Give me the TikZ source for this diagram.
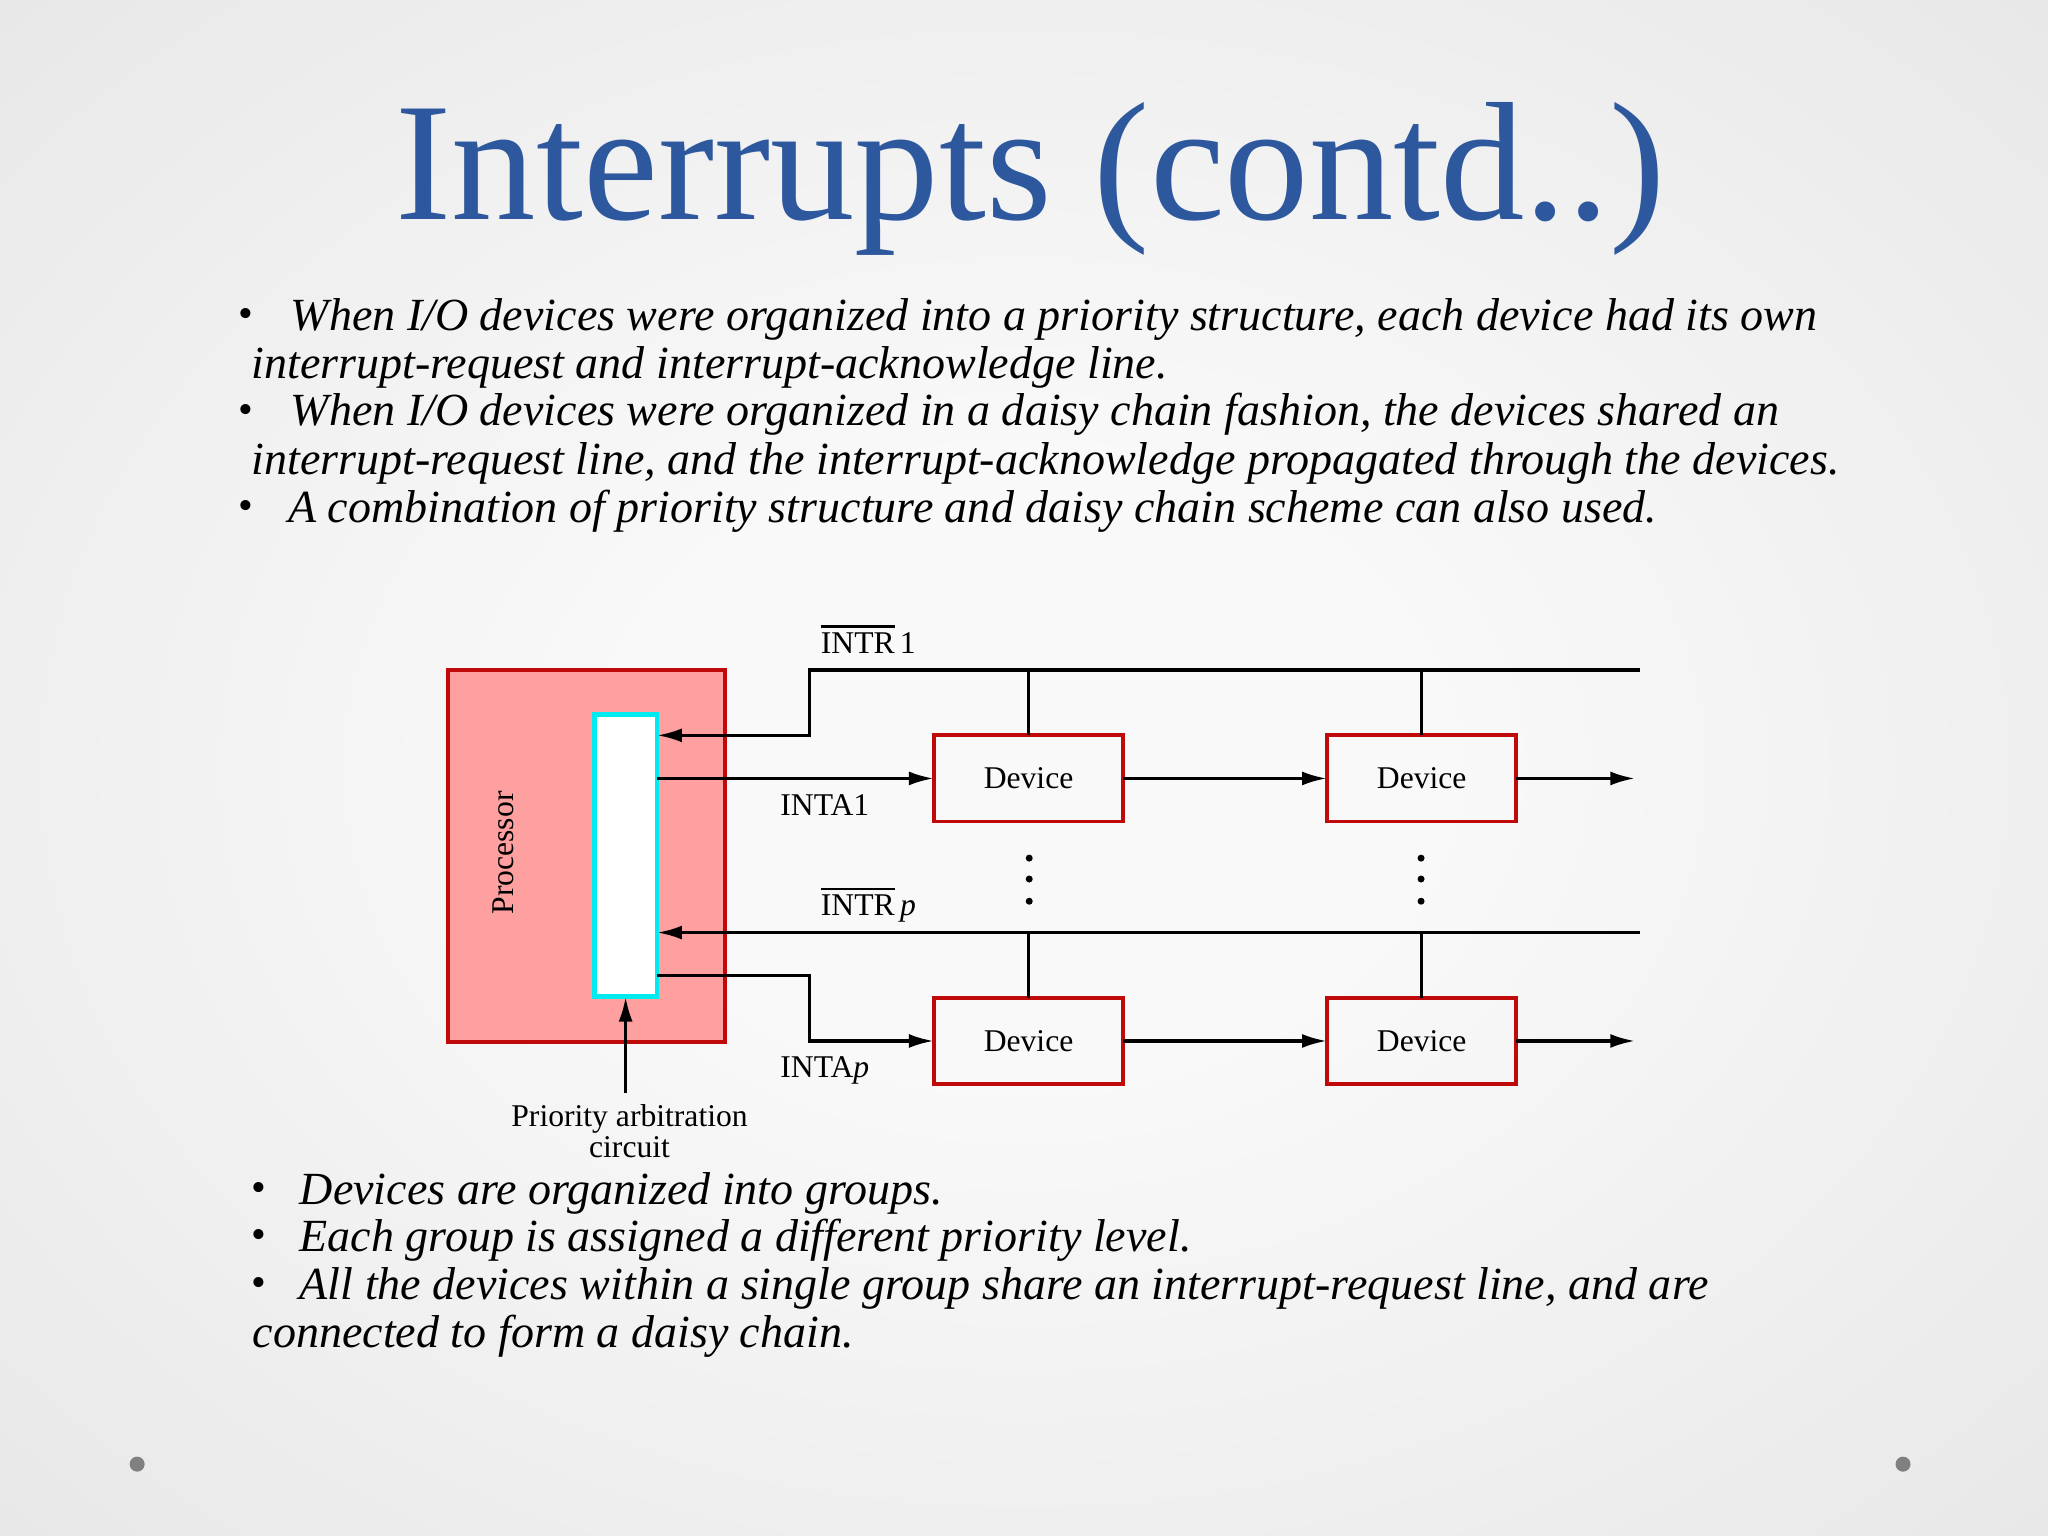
\documentclass[tikz,border=0pt]{standalone}
\usepackage{fontspec}
\setmainfont{Liberation Serif}
\usetikzlibrary{arrows.meta,calc}
\definecolor{titleblue}{RGB}{46,88,158}
\definecolor{boxred}{RGB}{192,10,10}
\definecolor{procpink}{RGB}{255,160,160}
\definecolor{pcyan}{RGB}{0,235,240}
\definecolor{bgin}{RGB}{249,249,249}
\definecolor{bgout}{RGB}{222,222,222}
\definecolor{dotgray}{RGB}{128,128,128}
\pgfdeclareradialshading{slidebg}{\pgfpoint{0bp}{0bp}}{color(0bp)=(bgin); color(10bp)=(bgin); color(50bp)=(bgout); color(72bp)=(bgout)}
\newcommand\myovl[1]{\leavevmode\vbox{\hrule height 0.65pt\kern1.3pt\hbox{#1}}}
\begin{document}
\begin{tikzpicture}[x=0.0130612cm, y=-0.0130612cm,
  wire/.style={line width=0.95pt},
  arr/.style={wire, -{Latex[length=0.25cm, width=0.14cm]}},
  procbox/.style={draw=boxred, line width=1.1pt, fill=procpink, minimum width=2.769cm, minimum height=3.722cm, inner sep=0pt, outer sep=0pt},
  pacbox/.style={draw=pcyan, line width=1.3pt, fill=white, minimum width=0.627cm, minimum height=2.821cm, inner sep=0pt, outer sep=0pt},
  devbox/.style={draw=boxred, line width=1.1pt, minimum width=1.894cm, minimum height=0.862cm, inner sep=0pt, outer sep=0pt, font=\fontsize{9}{10}\selectfont},
  lbl/.style={font=\fontsize{9}{10}\selectfont, inner sep=0pt, anchor=base west},
  body/.style={font=\fontsize{13.1}{15}\selectfont\itshape, inner sep=0pt, anchor=base west},
  bul/.style={font=\fontsize{12}{14}\selectfont, inner sep=0pt, anchor=base west},
  vdot/.style={fill=black},
]
% background
\useasboundingbox (0,0) rectangle (1568,1176);
\shade[shading=slidebg] (0,0) rectangle (1568,1176);

% title
\node[anchor=base, text=titleblue, font=\fontsize{48}{56}\selectfont, inner sep=0pt] (title) at (789,168) {Interrupts (contd..)};

% top bullets
\node[bul] (b1) at (182,251) {•};
\node[body] (t1) at (222,253) {When I/O devices were organized into a priority structure, each device had its own};
\node[body] (t2) at (192,290) {interrupt-request and interrupt-acknowledge line.};
\node[bul] (b3) at (182,324) {•};
\node[body] (t3) at (222,326) {When I/O devices were organized in a daisy chain fashion, the devices shared an};
\node[body] (t4) at (192,363) {interrupt-request line, and the interrupt-acknowledge propagated through the devices.};
\node[bul] (b5) at (182,398) {•};
\node[body] (t5) at (220,400) {A combination of priority structure and daisy chain scheme can also used.};

% diagram
\node[procbox] (proc) at (449,655.5) {};
\node[rotate=90, font=\fontsize{9}{10}\selectfont, inner sep=0pt] (proclbl) at (385,653) {Processor};
\node[pacbox] (pac) at (479,655) {};

\node[devbox] (d11) at (787.5,596) {Device};
\node[devbox] (d12) at (1088.5,596) {Device};
\node[devbox] (dp1) at (787.5,797) {Device};
\node[devbox] (dp2) at (1088.5,797) {Device};

\coordinate (bus1end) at (1256,513);
\coordinate (bus1turn) at (620,513);
\coordinate (intr1in) at (620,563);
\coordinate (out1) at (1252,596);
\coordinate (buspend) at (1256,714);
\coordinate (intap) at (620,747);
\coordinate (outp) at (1252,797);

% INTR1 bus
\draw[arr] (bus1end) -- (bus1turn) -- (intr1in) -- (intr1in -| pac.east);
\draw[wire] (d11.north) -- (d11.north |- bus1end);
\draw[wire] (d12.north) -- (d12.north |- bus1end);
% INTA1 chain
\draw[arr] (pac.east |- d11.west) -- (d11.west);
\draw[arr] (d11.east) -- (d12.west);
\draw[arr] (d12.east) -- (out1);
% INTRp bus
\draw[arr] (buspend) -- (buspend -| pac.east);
\draw[wire] (dp1.north) -- (dp1.north |- buspend);
\draw[wire] (dp2.north) -- (dp2.north |- buspend);
% INTAp chain
\draw[arr] (pac.east |- intap) -- (intap) |- (dp1.west);
\draw[arr] (dp1.east) -- (dp2.west);
\draw[arr] (dp2.east) -- (outp);

% vertical dots
\foreach \yy in {657,673,690} {
  \fill[vdot] (788,\yy) circle[radius=0.035cm];
  \fill[vdot] (1088,\yy) circle[radius=0.035cm];
}

% labels
\node[lbl] (lintr1) at (628,500) {\myovl{INTR}\,1};
\node[lbl] (linta1) at (597,624) {INTA1};
\node[lbl] (lintrp) at (628,701) {\myovl{INTR}\,\textit{p}};
\node[lbl] (lintap) at (597,825) {INTA\textit{p}};

% priority arbitration
\node[align=center, font=\fontsize{9}{8.6}\selectfont, inner sep=0pt] (prilbl) at (482,866) {Priority arbitration\\circuit};
\draw[arr] (pac.south |- 0,837) -- (pac.south);

% bottom bullets
\node[bul] (c1) at (192,920) {•};
\node[body] (u1) at (229,922) {Devices are organized into groups.};
\node[bul] (c2) at (192,956) {•};
\node[body] (u2) at (229,958) {Each group is assigned a different priority level.};
\node[bul] (c3) at (192,993) {•};
\node[body] (u3) at (229,995) {All the devices within a single group share an interrupt-request line, and are};
\node[body] (u4) at (193,1032) {connected to form a daisy chain.};

% footer dots
\fill[dotgray] (105,1121) circle[radius=0.075cm];
\fill[dotgray] (1457,1121) circle[radius=0.075cm];
\end{tikzpicture}
\end{document}
